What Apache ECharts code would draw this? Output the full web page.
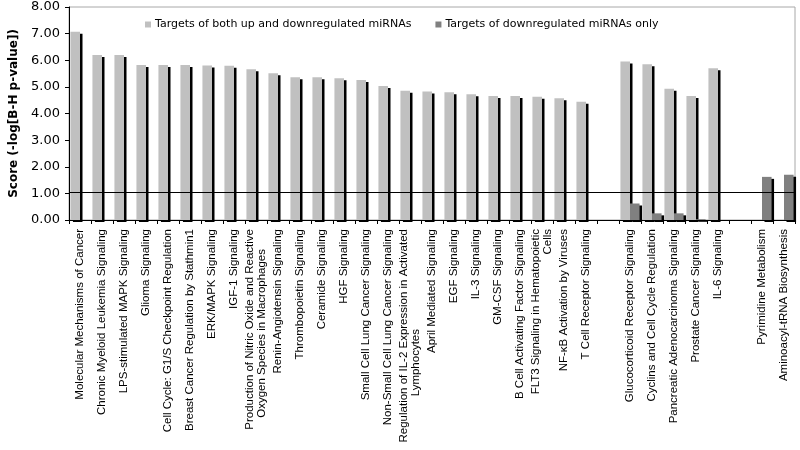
<!DOCTYPE html>
<html><head><meta charset="utf-8">
<script src="https://cdn.jsdelivr.net/npm/echarts@6/dist/echarts.min.js"></script>
<style>html,body{margin:0;padding:0;background:#fff}#c{width:800px;height:450px}</style>
</head><body><div id="c"></div>
<script>
const categories = [
  'Molecular Mechanisms of Cancer',
  'Chronic Myeloid Leukemia Signaling',
  'LPS-stimulated MAPK Signaling',
  'Glioma Signaling',
  'Cell Cycle: G1/S Checkpoint Regulation',
  'Breast Cancer Regulation by Stathmin1',
  'ERK/MAPK Signaling',
  'IGF-1 Signaling',
  'Production of Nitric Oxide and Reactive\nOxygen Species in Macrophages',
  'Renin-Angiotensin Signaling',
  'Thrombopoietin Signaling',
  'Ceramide Signaling',
  'HGF Signaling',
  'Small Cell Lung Cancer Signaling',
  'Non-Small Cell Lung Cancer Signaling',
  'Regulation of IL-2 Expression in Activated\nLymphocytes',
  'April Mediated Signaling',
  'EGF Signaling',
  'IL-3 Signaling',
  'GM-CSF Signaling',
  'B Cell Activating Factor Signaling',
  'FLT3 Signaling in Hematopoietic\nCells',
  'NF-κB Activation by Viruses',
  'T Cell Receptor Signaling',
  '',
  'Glucocorticoid Receptor Signaling',
  'Cyclins and Cell Cycle Regulation',
  'Pancreatic Adenocarcinoma Signaling',
  'Prostate Cancer Signaling',
  'IL-6 Signaling',
  ' ',
  'Pyrimidine Metabolism',
  'Aminoacyl-tRNA Biosynthesis'
];
const seriesNames = ['Targets of both up and downregulated miRNAs', 'Targets of downregulated miRNAs only'];
const bothValues = [7.07, 6.20, 6.20, 5.82, 5.82, 5.82, 5.80, 5.79, 5.66, 5.51, 5.36, 5.36, 5.32, 5.26, 5.03, 4.85, 4.83, 4.80, 4.72, 4.66, 4.66, 4.63, 4.57, 4.44, null, 5.95, 5.85, 4.93, 4.66, 5.70, null, null, null];
const downOnlyValues = [null, null, null, null, null, null, null, null, null, null, null, null, null, null, null, null, null, null, null, null, null, null, null, null, null, 0.62, 0.25, 0.25, 0.03, null, null, 1.62, 1.70];
const thresholdValue = 1.04;
const yMin = 0, yMax = 8, yStep = 1;
const yAxisTitle = 'Score (-log[B-H p-value])';

// second-line offsets (styling only)
const secondLineStyles = {
  'Oxygen Species in Macrophages': 'l1',
  'Lymphocytes': 'l2',
  'Cells': 'l3'
};

const chart = echarts.init(document.getElementById('c'), null, {renderer: 'canvas'});
const shadowStyle = {shadowColor: '#000', shadowBlur: 0, shadowOffsetX: 2.5, shadowOffsetY: 2};
chart.setOption({
  animation: false,
  backgroundColor: '#fff',
  grid: {left: 60, right: 5, top: 7, bottom: 230, show: true, borderColor: '#a8a8a8', borderWidth: 1, containLabel: false},
  legend: {
    left: 140, top: 14, itemWidth: 6, itemHeight: 6, itemGap: 24, icon: 'rect',
    textStyle: {fontFamily: 'DejaVu Sans', fontSize: 11, color: '#000', padding: [0, 0, 0, -1]},
    itemStyle: {shadowBlur: 0, shadowOffsetX: 0, shadowOffsetY: 0, shadowColor: 'transparent'},
    data: seriesNames
  },
  xAxis: {
    type: 'category', data: categories, boundaryGap: true,
    axisLine: {lineStyle: {color: '#000', width: 1}},
    axisTick: {show: true, interval: 0, length: 4, lineStyle: {color: '#000'}},
    axisLabel: {
      interval: 0, rotate: 90, margin: 9, color: '#000',
      fontFamily: 'Liberation Sans', fontSize: 11.5, lineHeight: 12,
      formatter: function (v) {
        const parts = v.split('\n');
        if (parts.length < 2) return v;
        const key = secondLineStyles[parts[1]] || 'l3';
        return parts[0] + '\n{' + key + '|' + parts[1] + '}';
      },
      rich: {
        l1: {fontFamily: 'Liberation Sans', fontSize: 11.5, lineHeight: 12, color: '#000', padding: [0, 20, 0, 0]},
        l2: {fontFamily: 'Liberation Sans', fontSize: 11.5, lineHeight: 12, color: '#000', padding: [0, 100, 0, 0]},
        l3: {fontFamily: 'Liberation Sans', fontSize: 11.5, lineHeight: 12, color: '#000', padding: [0, 0, 0, 0]}
      }
    },
    splitLine: {show: false}
  },
  yAxis: {
    type: 'value', min: yMin, max: yMax, interval: yStep,
    name: yAxisTitle, nameLocation: 'middle', nameGap: 49,
    nameTextStyle: {fontFamily: 'DejaVu Sans', fontSize: 12, fontWeight: 'bold', color: '#000'},
    axisLine: {show: true, lineStyle: {color: '#000', width: 1}},
    axisTick: {show: true, length: 4, lineStyle: {color: '#000'}},
    axisLabel: {margin: 9, color: '#000', fontFamily: 'DejaVu Sans', fontSize: 13, formatter: v => v.toFixed(2)},
    splitLine: {show: false}
  },
  series: [
    {
      name: seriesNames[0], type: 'bar', data: bothValues,
      barGap: '0%', barCategoryGap: '13%',
      itemStyle: Object.assign({color: '#c0c0c0'}, shadowStyle),
      markLine: {
        silent: true, symbol: 'none', label: {show: false},
        lineStyle: {color: '#000', width: 1, type: 'solid'},
        data: [{yAxis: thresholdValue}]
      }
    },
    {
      name: seriesNames[1], type: 'bar', data: downOnlyValues,
      itemStyle: Object.assign({color: '#808080'}, shadowStyle)
    }
  ]
});
</script>
</body></html>
